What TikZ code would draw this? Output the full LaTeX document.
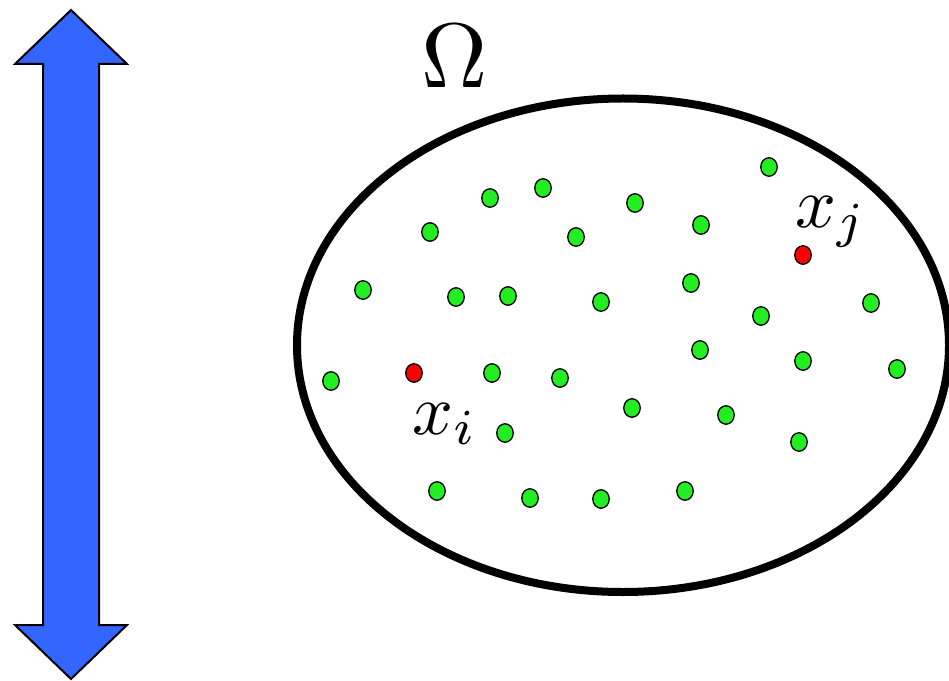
\documentclass[tikz,border=0pt]{standalone}
\usepackage{graphicx}
\usetikzlibrary{shapes.geometric}
\definecolor{arrblue}{RGB}{51,102,255}
\definecolor{dotgreen}{RGB}{34,238,34}
\definecolor{dotred}{RGB}{255,0,0}
\tikzset{
  gdot/.style={ellipse,draw=black,line width=1.3bp,fill=dotgreen,minimum width=16.5bp,minimum height=18.5bp,inner sep=0pt},
  rdot/.style={ellipse,draw=black,line width=1.3bp,fill=dotred,minimum width=16.5bp,minimum height=18.5bp,inner sep=0pt},
  lbl/.style={inner sep=0pt},
}
\begin{document}
\begin{tikzpicture}[x=1bp,y=-1bp]
\useasboundingbox (0,0) rectangle (949,681);
% double arrow
\draw[line width=2bp,fill=arrblue,line join=miter]
 (71,10) -- (127,64) -- (99,64) -- (99,625) -- (127,625) -- (71,679) -- (15,625) -- (43,625) -- (43,64) -- (15,64) -- cycle;
% domain
\begin{scope}
\clip (0,0) rectangle (949,681);
\node[ellipse,draw=black,line width=8bp,minimum width=652bp,minimum height=493.5bp,inner sep=0pt] (omega) at (623,345.25) {};
\end{scope}
\node[lbl] (omegalbl) at (455,56) {\scalebox{9.2}{$\Omega$}};
% green points
\foreach \i/\x/\y in {1/769/167,2/490/198,3/543/188,4/635/203,5/430/232,6/576/237,7/701/225,8/363/290,9/456/297,10/508/296,11/601/302,12/691/283,13/761/316,14/871/303,15/700/350,16/803/361,17/897/369,18/331/381,19/492/373,20/560/378,21/632/408,22/726/415,23/505/433,24/799/442,25/437/491,26/530/498,27/601/499,28/685/491}
  \node[gdot] (g\i) at (\x,\y) {};
% red points
\node[rdot] (xi) at (414,373) {};
\node[rdot] (xj) at (803,255) {};
\node[lbl] (xilbl) at (445,424) {\scalebox{7.2}{$x_i$}};
\node[lbl] (xjlbl) at (831,222) {\scalebox{7.2}{$x_j$}};
\end{tikzpicture}
\end{document}
